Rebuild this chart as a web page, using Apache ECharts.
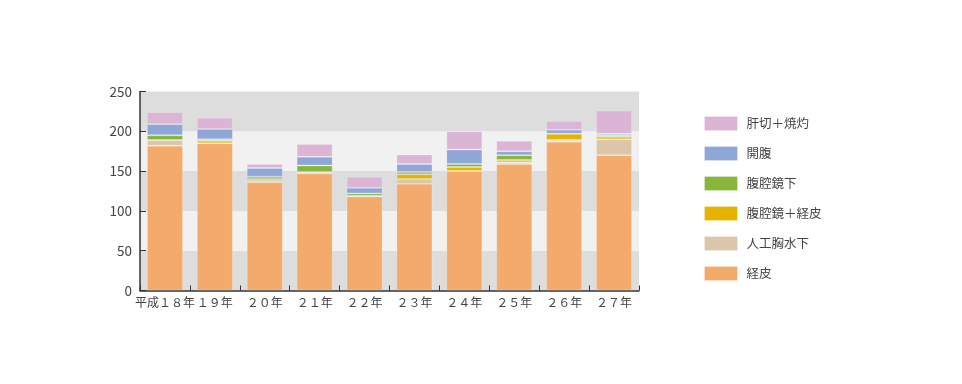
<!DOCTYPE html>
<html><head><meta charset="utf-8">
<script src="https://cdn.jsdelivr.net/npm/echarts@6/dist/echarts.min.js"></script>
<style>html,body{margin:0;padding:0;background:#fff}#c{width:962px;height:384px}</style>
</head><body><div id="c"></div>
<script>
const categories = ['平成１８年','１９年','２０年','２１年','２２年','２３年','２４年','２５年','２６年','２７年'];
const keihi      = [182,185,136,147,118,134,150,159,187,170];
const jinko      = [7,0,2,1,0,6,0,2,2,20];
const fukuKeihi  = [0,3,2,1,1,6,5,3,8,3];
const fukukuKa   = [6,2,3,8,3,3,4,6,0,2];
const kaifuku    = [14,13,11,11,7,10,18,5,5,2];
const kansetsu   = [15,14,5,16,14,12,23,13,11,29];
const seriesNames = ['経皮','人工胸水下','腹腔鏡＋経皮','腹腔鏡下','開腹','肝切＋焼灼'];
const seriesData = [keihi,jinko,fukuKeihi,fukukuKa,kaifuku,kansetsu];
const colors = ['#f3aa6a','#dcc6aa','#e6b400','#87b63a','#8fa7d8','#dcb4d6'];
const yTicks = [0,50,100,150,200,250];

const chart = echarts.init(document.getElementById('c'));
chart.setOption({
  animation:false,
  textStyle:{fontFamily:'"Noto Sans CJK JP","Noto Sans",sans-serif'},
  grid:{left:140,right:323,top:91.5,bottom:93.5,containLabel:false},
  legend:{
    orient:'vertical', left:704, top:116, padding:0,
    itemWidth:33, itemHeight:14, itemGap:15,
    icon:'rect',
    data:seriesNames.slice().reverse(),
    textStyle:{color:'#444',fontSize:12.5,padding:[0,0,0,4]},
    itemStyle:{borderColor:'rgba(255,255,255,0.25)',borderWidth:1}
  },
  xAxis:{
    type:'category', data:categories,
    axisLine:{lineStyle:{color:'#333',width:1.5}},
    axisTick:{show:true,inside:true,length:5,lineStyle:{color:'#333'}},
    axisLabel:{color:'#444',fontSize:12,margin:6,interval:0}
  },
  yAxis:{
    type:'value', min:0, max:250, interval:50,
    axisLine:{show:true,lineStyle:{color:'#333',width:1.5}},
    axisTick:{show:true,inside:true,length:6,lineStyle:{color:'#333'}},
    axisLabel:{color:'#444',fontSize:13.5,margin:8,
      formatter:v=>yTicks.includes(v)?String(v):''},
    splitLine:{show:false},
    splitArea:{show:true,areaStyle:{color:['#dddddd','#f1f1f1']}}
  },
  series: seriesNames.map((n,i)=>({
    name:n, type:'bar', stack:'s', barWidth:36,
    data:seriesData[i],
    itemStyle:{color:colors[i],borderColor:'rgba(255,255,255,0.2)',borderWidth:1}
  }))
});
</script></body></html>
